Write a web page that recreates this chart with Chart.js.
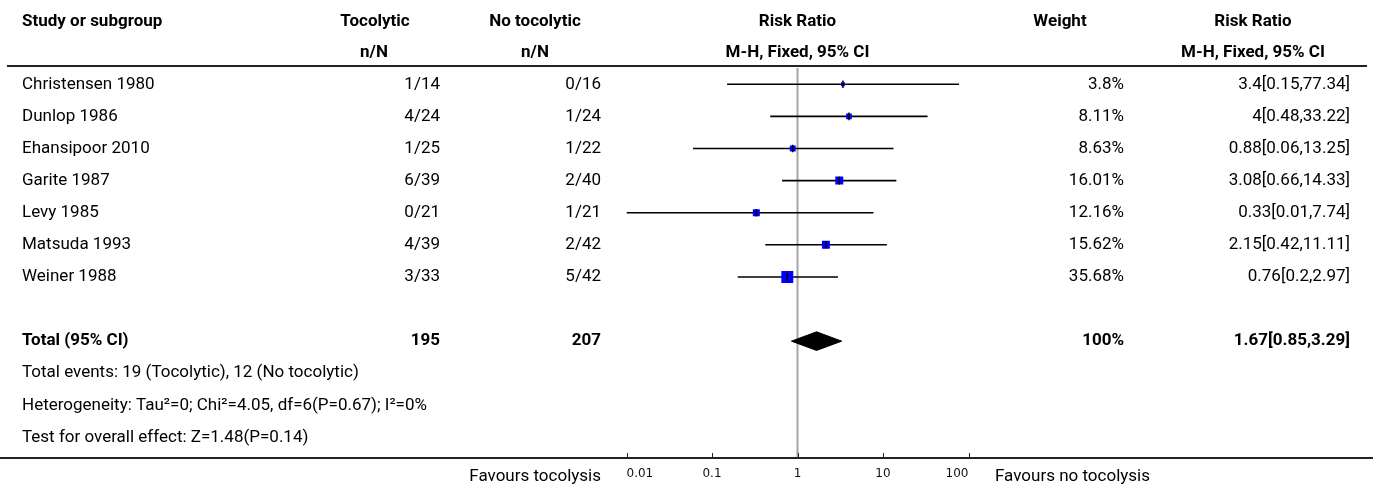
<!DOCTYPE html>
<html lang="en">
<head>
    <title>Forest plot</title>
    <meta charset="UTF-8">
    <script src="https://cdn.jsdelivr.net/npm/chart.js"></script>
    <style>
        html, body { margin: 0; padding: 0; background: #fff; }
        #wrap { width: 1373px; height: 489px; }
    </style>
</head>
<body>
    <div id="wrap"><canvas id="chart" width="1373" height="489"></canvas></div>
    <script>
        // study data
        var studies = ['Christensen 1980', 'Dunlop 1986', 'Ehansipoor 2010', 'Garite 1987', 'Levy 1985', 'Matsuda 1993', 'Weiner 1988'];
        var tocoEvents = [1, 4, 1, 6, 0, 4, 3];
        var tocoTotal = [14, 24, 25, 39, 21, 39, 33];
        var noTocoEvents = [0, 1, 1, 2, 1, 2, 5];
        var noTocoTotal = [16, 24, 22, 40, 21, 42, 42];
        var riskRatio = [3.4, 4, 0.88, 3.08, 0.33, 2.15, 0.76];
        var ciLower = [0.15, 0.48, 0.06, 0.66, 0.01, 0.42, 0.2];
        var ciUpper = [77.34, 33.22, 13.25, 14.33, 7.74, 11.11, 2.97];
        var weights = [3.8, 8.11, 8.63, 16.01, 12.16, 15.62, 35.68];

        // pooled result
        var totalRR = [1.67, 0.85, 3.29]; // estimate, lower, upper
        var totalWeight = '100%';
        var footLines = [
            'Heterogeneity: Tau\u00B2=0; Chi\u00B2=4.05, df=6(P=0.67); I\u00B2=0%',
            'Test for overall effect: Z=1.48(P=0.14)'
        ];

        // axis
        var xTicks = [0.01, 0.1, 1, 10, 100];
        var favours = ['Favours tocolysis', 'Favours no tocolysis'];

        var sum = function (a) { return a.reduce(function (s, v) { return s + v; }, 0); };
        var TOTAL_ROW = studies.length + 1;
        var FONT = 'Roboto, sans-serif';

        // CI whiskers, one dataset each
        var datasets = studies.map(function (s, i) {
            return {
                label: s,
                data: [{ x: ciLower[i], y: i }, { x: ciUpper[i], y: i }],
                showLine: true,
                borderColor: '#000',
                borderWidth: 1.6,
                pointRadius: 0,
                order: 3
            };
        });

        // weight squares
        datasets.push({
            label: 'weight',
            data: studies.map(function (s, i) { return { x: riskRatio[i], y: i }; }),
            pointStyle: 'rect',
            pointRadius: function (c) { return 2 * Math.sqrt(weights[c.dataIndex]) / Math.SQRT2; },
            backgroundColor: '#0000ff',
            borderWidth: 0,
            order: 2
        });

        // small tick at the estimate
        datasets.push({
            label: 'estimate',
            data: studies.map(function (s, i) { return { x: riskRatio[i], y: i }; }),
            pointStyle: 'line',
            rotation: 90,
            pointRadius: 3.8,
            borderColor: '#000',
            borderWidth: 1.5,
            order: 1
        });

        // pooled diamond
        var dh = 0.29;
        datasets.push({
            label: 'total',
            data: [
                { x: totalRR[1], y: TOTAL_ROW },
                { x: totalRR[0], y: TOTAL_ROW - dh },
                { x: totalRR[2], y: TOTAL_ROW },
                { x: totalRR[0], y: TOTAL_ROW + dh },
                { x: totalRR[1], y: TOTAL_ROW }
            ],
            showLine: true,
            fill: 'shape',
            borderColor: '#000',
            backgroundColor: '#000',
            borderWidth: 1,
            pointRadius: 0,
            order: 0
        });

        function text(ctx, str, x, y, align, bold) {
            ctx.font = (bold ? 'bold ' : '') + '17px ' + FONT;
            ctx.textAlign = align;
            ctx.textBaseline = 'middle';
            ctx.fillStyle = '#000';
            ctx.fillText(str, x, y);
        }

        var forestTable = {
            id: 'forestTable',
            beforeDatasetsDraw: function (chart) {
                var ctx = chart.ctx, xs = chart.scales.x, a = chart.chartArea;
                var px = xs.getPixelForValue(1);
                ctx.save();
                ctx.strokeStyle = '#a6a6a6';
                ctx.lineWidth = 2;
                ctx.beginPath();
                ctx.moveTo(px, a.top + 2);
                ctx.lineTo(px, a.bottom);
                ctx.stroke();
                ctx.restore();
            },
            afterDraw: function (chart) {
                var ctx = chart.ctx, xs = chart.scales.x, ys = chart.scales.y, a = chart.chartArea;
                var mid = xs.getPixelForValue(1);
                ctx.save();

                // rules
                ctx.strokeStyle = '#222';
                ctx.lineWidth = 2;
                ctx.beginPath();
                ctx.moveTo(7, a.top);
                ctx.lineTo(1367, a.top);
                ctx.moveTo(0, a.bottom);
                ctx.lineTo(1373, a.bottom);
                ctx.stroke();

                ctx.lineWidth = 1;
                ctx.beginPath();
                xTicks.forEach(function (v) {
                    var p = Math.round(xs.getPixelForValue(v)) + 0.5;
                    ctx.moveTo(p, a.bottom);
                    ctx.lineTo(p, a.bottom - 5);
                });
                ctx.stroke();

                // header
                text(ctx, 'Study or subgroup', 22, 22, 'left', true);
                text(ctx, 'Tocolytic', 375, 22, 'center', true);
                text(ctx, 'n/N', 374, 53, 'center', true);
                text(ctx, 'No tocolytic', 535, 22, 'center', true);
                text(ctx, 'n/N', 535, 53, 'center', true);
                text(ctx, 'Risk Ratio', mid, 22, 'center', true);
                text(ctx, 'M-H, Fixed, 95% CI', mid, 53, 'center', true);
                text(ctx, 'Weight', 1060, 22, 'center', true);
                text(ctx, 'Risk Ratio', 1253, 22, 'center', true);
                text(ctx, 'M-H, Fixed, 95% CI', 1253, 53, 'center', true);

                // study rows
                studies.forEach(function (s, i) {
                    var y = ys.getPixelForValue(i);
                    text(ctx, s, 22, y, 'left');
                    text(ctx, tocoEvents[i] + '/' + tocoTotal[i], 440, y, 'right');
                    text(ctx, noTocoEvents[i] + '/' + noTocoTotal[i], 601, y, 'right');
                    text(ctx, weights[i] + '%', 1124, y, 'right');
                    text(ctx, riskRatio[i] + '[' + ciLower[i] + ',' + ciUpper[i] + ']', 1350, y, 'right');
                });

                // total row
                var ty = ys.getPixelForValue(TOTAL_ROW);
                text(ctx, 'Total (95% CI)', 22, ty, 'left', true);
                text(ctx, String(sum(tocoTotal)), 440, ty, 'right', true);
                text(ctx, String(sum(noTocoTotal)), 601, ty, 'right', true);
                text(ctx, totalWeight, 1124, ty, 'right', true);
                text(ctx, totalRR[0] + '[' + totalRR[1] + ',' + totalRR[2] + ']', 1350, ty, 'right', true);

                var lines = ['Total events: ' + sum(tocoEvents) + ' (Tocolytic), ' + sum(noTocoEvents) + ' (No tocolytic)'].concat(footLines);
                lines.forEach(function (l, k) {
                    text(ctx, l, 22, ys.getPixelForValue(TOTAL_ROW + 1 + k), 'left');
                });

                // favours labels
                text(ctx, favours[0], 601, 477, 'right');
                text(ctx, favours[1], 995, 477, 'left');
                ctx.restore();
            }
        };

        var chart = new Chart(document.getElementById('chart'), {
            type: 'scatter',
            data: { datasets: datasets },
            options: {
                responsive: false,
                animation: false,
                layout: { padding: { left: 626.5, right: 404.5, top: 66, bottom: 0 } },
                plugins: { legend: { display: false }, tooltip: { enabled: false } },
                scales: {
                    x: {
                        type: 'logarithmic',
                        min: 0.01,
                        max: 100,
                        afterBuildTicks: function (s) { s.ticks = xTicks.map(function (v) { return { value: v }; }); },
                        afterFit: function (s) { s.height = 31; },
                        grid: { display: false, drawTicks: false },
                        border: { display: false },
                        ticks: {
                            autoSkip: false,
                            maxRotation: 0,
                            align: 'inner',
                            padding: 9,
                            color: '#111',
                            font: { family: 'DejaVu Sans', size: 12 },
                            callback: function (v) { return String(v); }
                        }
                    },
                    y: {
                        type: 'linear',
                        display: false,
                        reverse: true,
                        min: -0.57,
                        max: 11.64
                    }
                }
            },
            plugins: [forestTable]
        });
    </script>
</body>
</html>
